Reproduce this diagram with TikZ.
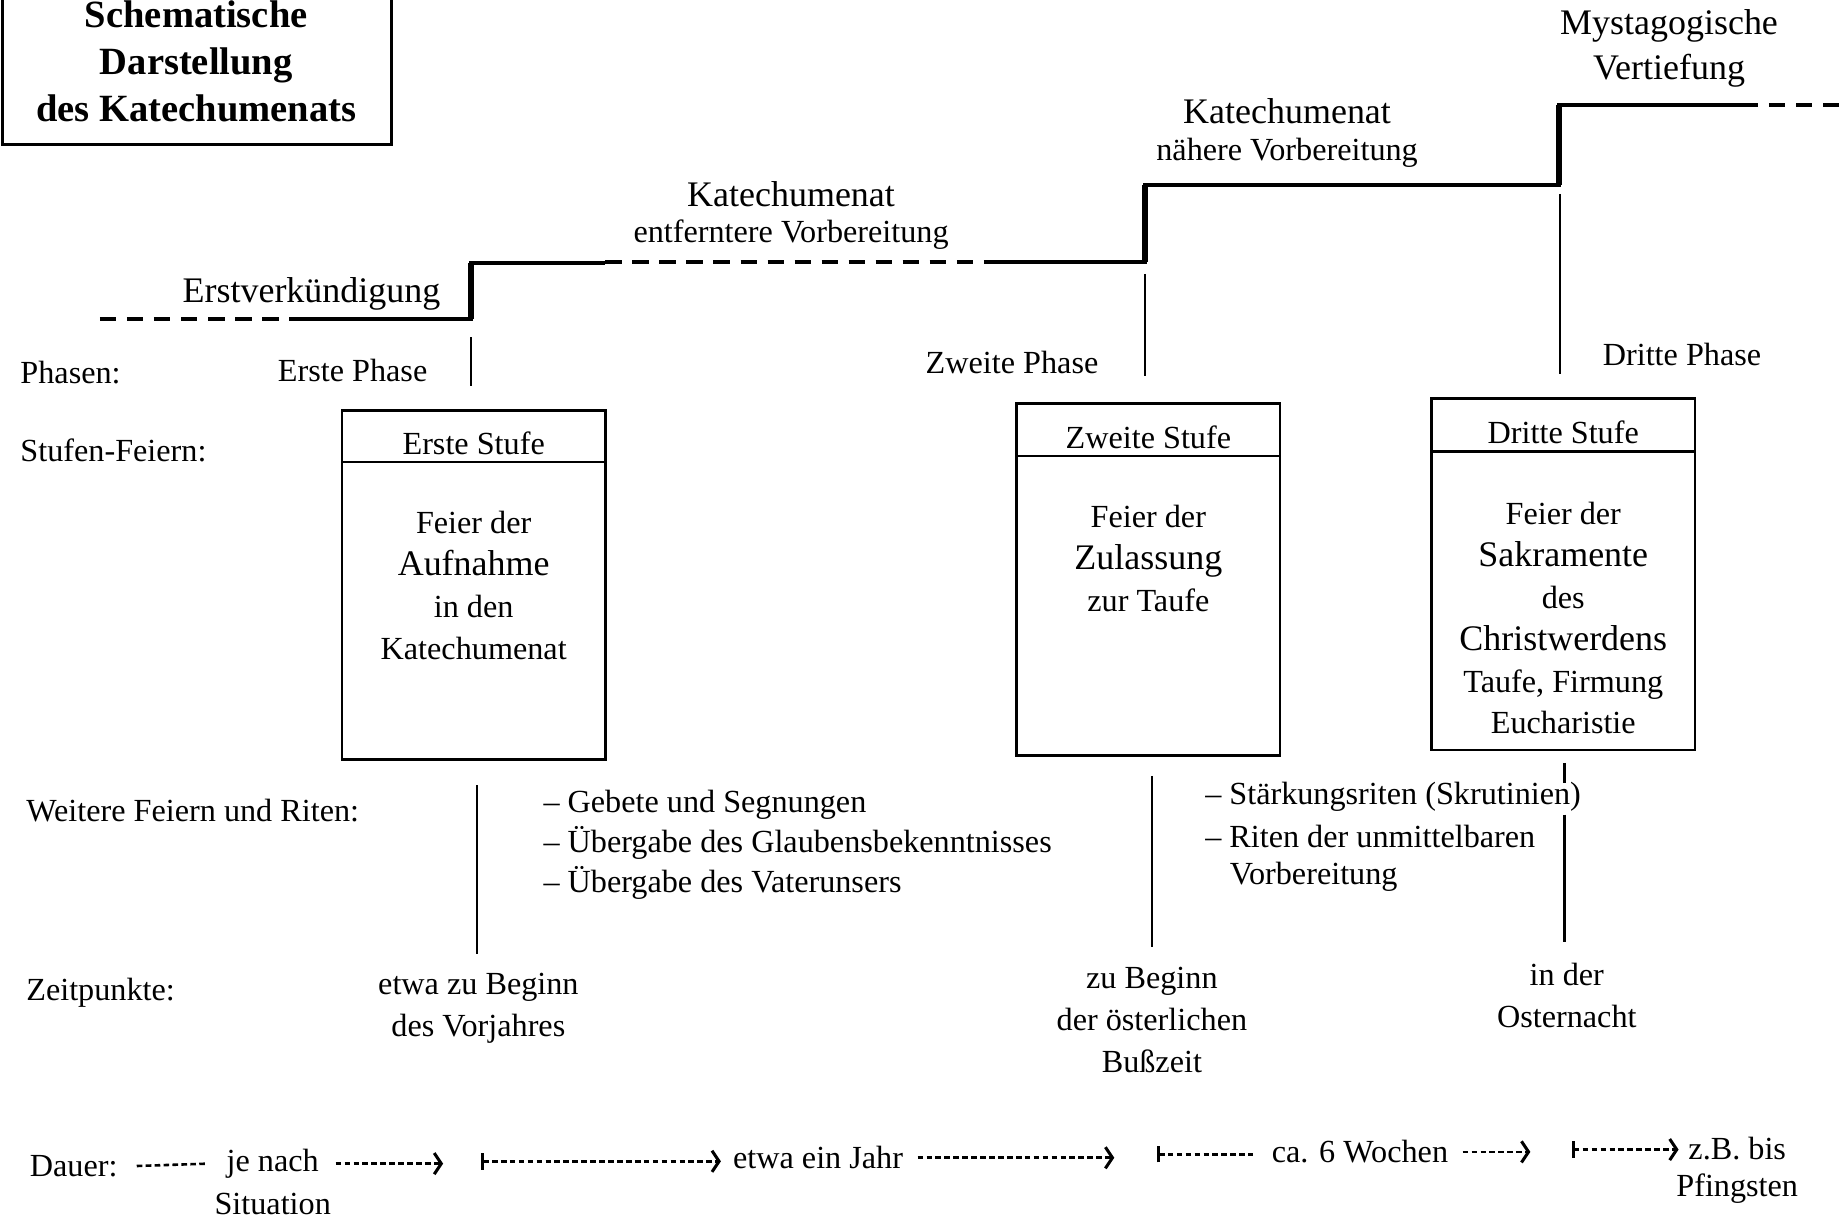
\documentclass[tikz,border=0pt]{standalone}
\usepackage{fontspec}
\setmainfont{Liberation Serif}
\usetikzlibrary{arrows.meta}

\begin{document}
\begin{tikzpicture}[x=0.5pt,y=-0.5pt]
\tikzstyle{txt}=[inner sep=0pt,font=\fontsize{13.7}{17}\selectfont]
\tikzstyle{big}=[inner sep=0pt,font=\fontsize{15.3}{18}\selectfont]
\tikzstyle{col}=[txt,align=center,font=\fontsize{13.7}{17.8}\selectfont]
\tikzstyle{title}=[inner sep=0pt,align=center,font=\bfseries\fontsize{16.4}{20}\selectfont]
\tikzstyle{stair}=[line width=1.7pt]
\tikzstyle{riser}=[line width=2.5pt]
\tikzstyle{stairdash}=[stair,dash pattern=on 7pt off 4.5pt]
\tikzstyle{rule}=[line width=0.9pt]
\tikzstyle{box}=[line width=1.2pt]
\tikzstyle{dots}=[line width=1.1pt,dash pattern=on 2.4pt off 1.4pt]
\tikzset{>={Straight Barb[length=3pt,width=9pt,line width=1.3pt]}}
\newcommand{\grosszeile}[1]{{\fontsize{15.3}{17.8}\selectfont #1}}

\useasboundingbox (0,0) rectangle (1568,1041);

% title box
\draw[box] (2,-10) rectangle (333,123);
\node[title] (titel) at (167,52) {Schematische\\Darstellung\\des Katechumenats};

% stairs
\coordinate (s1) at (401,271);
\coordinate (s2) at (401,224);
\coordinate (s3) at (974,223);
\coordinate (s4) at (974,157);
\coordinate (s5) at (1326,157);
\coordinate (s6) at (1326,89);
\draw[stairdash] (85,271) -- (258,271);
\draw[stair] (258,271) -- (s1) -- (s2) -- (515,224);
\draw[stairdash] (515,223) -- (840,223);
\draw[stair] (840,223) -- (s3) -- (s4) -- (s5) -- (s6) -- (1482,89);
\draw[stairdash] (1482,89) -- (1568,89);
\draw[riser] (s1) -- (s2) (s3) -- (s4) (s5) -- (s6);

\node[big] (erstv) at (265,250) {Erstverkündigung};
\node[big] (kat1) at (673,165) {Katechumenat};
\node[txt] (entf) at (673,200) {entferntere Vorbereitung};
\node[big] (kat2) at (1095,95) {Katechumenat};
\node[txt] (naeh) at (1095,130) {nähere Vorbereitung};
\node[big] (myst) at (1420,22) {Mystagogische};
\node[big] (vert) at (1420,60) {Vertiefung};

% row labels
\node[txt,anchor=west] (phasen) at (17,317) {Phasen:};
\node[txt,anchor=west] (stufen) at (17,383) {Stufen-Feiern:};
\node[txt,anchor=west] (weitere) at (22,690) {Weitere Feiern und Riten:};
\node[txt,anchor=west] (zeit) at (22,845) {Zeitpunkte:};
\node[txt,anchor=west] (dauer) at (25,992) {Dauer:};

% phases
\node[txt] (ph1) at (300,315) {Erste Phase};
\node[txt] (ph2) at (861,308) {Zweite Phase};
\node[txt] (ph3) at (1431,302) {Dritte Phase};
\draw[rule] (401,287) -- (401,328);
\draw[rule] (974,233) -- (974,320);
\draw[rule] (1327,165) -- (1327,318);

% boxes
\draw[box] (291,349) rectangle (515,646);
\draw[box] (291,393) -- (515,393);
\node[txt] (st1) at (403,377) {Erste Stufe};
\node[col] (fe1) at (403,498) {Feier der\\\grosszeile{Aufnahme}\\in den\\Katechumenat};

\draw[box] (865,343) rectangle (1089,643);
\draw[box] (865,388) -- (1089,388);
\node[txt] (st2) at (977,372) {Zweite Stufe};
\node[col] (fe2) at (977,475) {Feier der\\\grosszeile{Zulassung}\\zur Taufe};

\draw[box] (1218,339) rectangle (1442,638);
\draw[box] (1218,384) -- (1442,384);
\node[txt] (st3) at (1330,368) {Dritte Stufe};
\node[col] (fe3) at (1330,526) {Feier der\\\grosszeile{Sakramente}\\des\\\grosszeile{Christwerdens}\\Taufe, Firmung\\Eucharistie};

% weitere Feiern
\draw[rule] (406,668) -- (406,812);
\draw[rule] (980,660) -- (980,806);
\draw[rule] (1331,649) -- (1331,666);
\draw[rule] (1331,693) -- (1331,801);
\node[txt,anchor=west] (w1) at (462,685) {– Gebete und Segnungen};
\node[txt,anchor=west] (w2) at (462,717) {– Übergabe des Glaubensbekenntnisses};
\node[txt,anchor=west] (w3) at (462,751) {– Übergabe des Vaterunsers};
\node[txt,anchor=west] (w4) at (1025,678) {– Stärkungsriten (Skrutinien)};
\node[txt,anchor=west] (w5) at (1025,712) {– Riten der unmittelbaren};
\node[txt,anchor=west] (w6) at (1046,746) {Vorbereitung};

% Zeitpunkte
\node[col] (z1) at (407,858) {etwa zu Beginn\\des Vorjahres};
\node[col] (z2) at (980,868) {zu Beginn\\der österlichen\\Bußzeit};
\node[col] (z3) at (1333,847) {in der\\Osternacht};

% Dauer
\node[txt] (jenach) at (232,990) {je nach};
\node[txt] (situ) at (232,1024) {Situation};
\node[txt] (jahr) at (696,985) {etwa ein Jahr};
\node[txt] (wochen) at (1157,980) {ca. 6 Wochen};
\node[txt] (zbbis) at (1478,977) {z.B. bis};
\node[txt] (pfing) at (1478,1011) {Pfingsten};
\coordinate (e1) at (377,990);
\coordinate (t1) at (409,988);
\coordinate (e2) at (948,985);
\coordinate (t2) at (984,982);
\coordinate (e3) at (1302,980);
\coordinate (t3) at (1337,978);

\draw[dots] ([xshift=8pt]dauer.east) -- ([xshift=-8pt]jenach.west);
\draw[dots,->] ([xshift=7pt]jenach.east) -- (e1);
\draw[dots,{Bar[width=7pt,line width=1.3pt]}->] (t1) -- ([xshift=-5pt]jahr.west |- t1);
\draw[dots,->] ([xshift=6pt]jahr.east) -- (e2);
\draw[dots,{Bar[width=7pt,line width=1.3pt]}-] (t2) -- ([xshift=-8pt]wochen.west |- t2);
\draw[dots,->] ([xshift=6pt]wochen.east) -- (e3);
\draw[dots,{Bar[width=7pt,line width=1.3pt]}->] (t3) -- ([xshift=-4pt]zbbis.west |- t3);
\end{tikzpicture}
\end{document}
